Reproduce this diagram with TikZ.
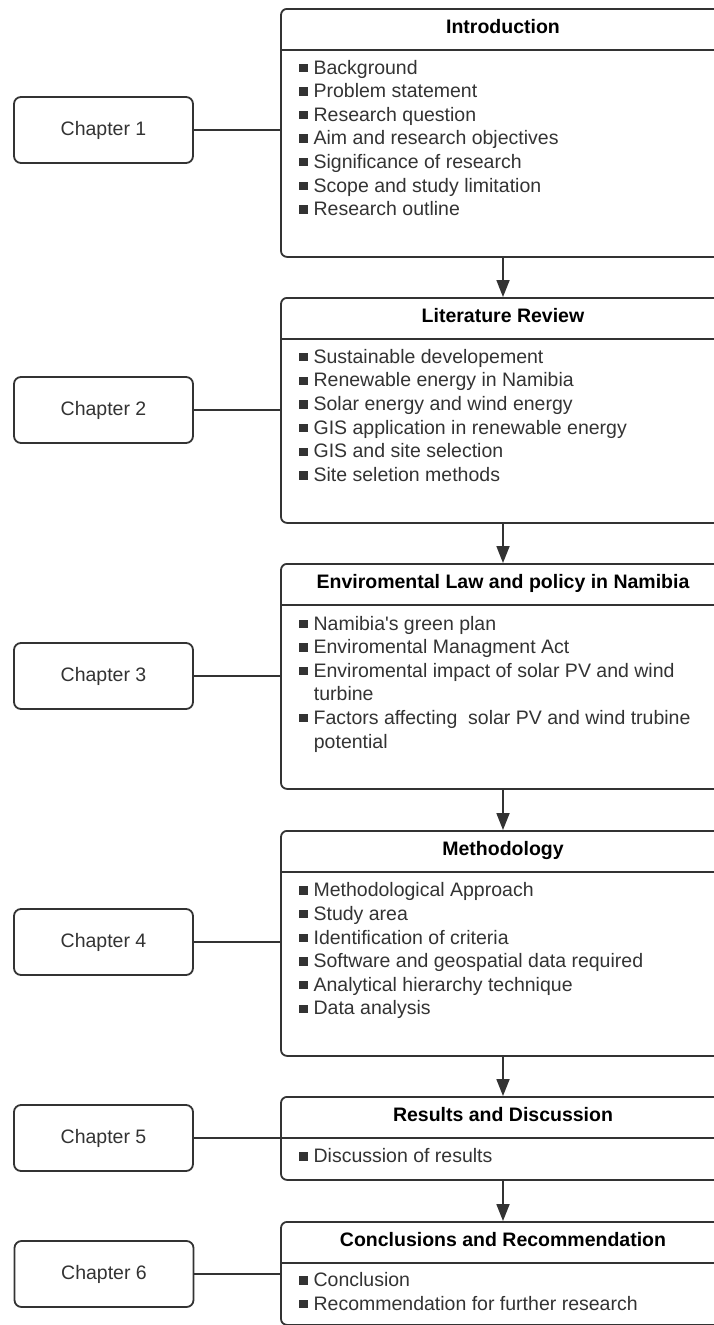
\documentclass[tikz,border=0pt]{standalone}
\usepackage{fontspec}
\setmainfont{Liberation Sans}
\usetikzlibrary{arrows.meta}
\definecolor{ln}{HTML}{333333}
\definecolor{tx}{HTML}{333333}
\newcommand{\bul}{\textcolor{tx}{\rule[2pt]{8.4pt}{8.4pt}}\hspace{6pt}}
\begin{document}
\begin{tikzpicture}[x=1pt,y=-1pt,
  every node/.style={font=\fontsize{19.5}{23.5}\selectfont, inner sep=0pt},
  chap/.style={draw=ln, line width=1.8pt, rounded corners=7pt, minimum width=179pt, minimum height=66pt, text=tx},
  sect/.style={draw=ln, line width=1.8pt, rounded corners=6pt, minimum width=444pt, anchor=north},
  ttl/.style={anchor=base, font=\fontsize{19.5}{23.5}\selectfont\bfseries, text=black},
  itm/.style={anchor=base west, text=tx},
  link/.style={draw=ln, line width=1.8pt},
  arr/.style={draw=ln, line width=1.8pt, -{Triangle[length=17pt,width=13pt]}},
]
\fill[white] (0,0) rectangle (714,1325);
\useasboundingbox (0,0) rectangle (714,1325);
\clip (0,0) rectangle (714,1325);

% section boxes
\node[sect, minimum height=248pt] (b1) at (503,8) {};
\node[sect, minimum height=225pt] (b2) at (503,297) {};
\node[sect, minimum height=225pt] (b3) at (503,563) {};
\node[sect, minimum height=225pt] (b4) at (503,830) {};
\node[sect, minimum height=83pt] (b5) at (503,1096) {};
\node[sect, minimum height=103pt] (b6) at (503,1221) {};

% dividers
\foreach \b/\d in {b1/50, b2/339, b3/605, b4/872, b5/1138, b6/1263}
  \draw[link] (\b.west |- 0,\d) -- (\b.east |- 0,\d);

% titles
\node[ttl] (t1) at (503,33.2) {Introduction};
\node[ttl] (t2) at (503,322.3) {Literature Review};
\node[ttl] (t3) at (503,588.3) {Enviromental Law and policy in Namibia};
\node[ttl] (t4) at (503,855.2) {Methodology};
\node[ttl] (t5) at (503,1121.5) {Results and Discussion};
\node[ttl] (t6) at (503,1246) {Conclusions and Recommendation};

% items box 1
\foreach \t [count=\i] in {Background, Problem statement, Research question,
  Aim and research objectives, Significance of research,
  Scope and study limitation, Research outline}
  \node[itm] (b1i\i) at (299,{74+(\i-1)*23.6}) {\bul \t};

% items box 2
\foreach \t [count=\i] in {Sustainable developement, Renewable energy in Namibia,
  Solar energy and wind energy, GIS application in renewable energy,
  GIS and site selection, Site seletion methods}
  \node[itm] (b2i\i) at (299,{363.3+(\i-1)*23.65}) {\bul \t};

% items box 3
\node[itm] (b3i1) at (299,630) {\bul Namibia\textquotesingle s green plan};
\node[itm] (b3i2) at (299,653.6) {\bul Enviromental Managment Act};
\node[itm] (b3i3) at (299,677.2) {\bul Enviromental impact of solar PV and wind};
\node[itm] (b3i3b) at (313.7,700.8) {turbine};
\node[itm] (b3i4) at (299,724.4) {\bul Factors affecting\ \ solar PV and wind trubine};
\node[itm] (b3i4b) at (313.7,748) {potential};

% items box 4
\foreach \t [count=\i] in {Methodological Approach, Study area,
  Identification of criteria, Software and geospatial data required,
  Analytical hierarchy technique, Data analysis}
  \node[itm] (b4i\i) at (299,{896.7+(\i-1)*23.65}) {\bul \t};

% items box 5
\node[itm] (b5i1) at (299,1162.7) {\bul Discussion of results};

% items box 6
\node[itm] (b6i1) at (299,1286.7) {\bul Conclusion};
\node[itm] (b6i2) at (299,1310.3) {\bul Recommendation for further research};

% chapter boxes
\node[chap] (c1) at (103.5,130) {Chapter 1};
\node[chap] (c2) at (103.5,410) {Chapter 2};
\node[chap] (c3) at (103.5,676) {Chapter 3};
\node[chap] (c4) at (103.5,942) {Chapter 4};
\node[chap] (c5) at (103.5,1138) {Chapter 5};
\node[chap] (c6) at (104,1274) {Chapter 6};

% links
\foreach \c/\b in {c1/b1, c2/b2, c3/b3, c4/b4, c5/b5, c6/b6}
  \draw[link] (\c.east) -- (\c.east -| \b.west);

% arrows
\draw[arr] (b1.south) -- (b2.north);
\draw[arr] (b2.south) -- (b3.north);
\draw[arr] (b3.south) -- (b4.north);
\draw[arr] (b4.south) -- (b5.north);
\draw[arr] (b5.south) -- (b6.north);
\end{tikzpicture}
\end{document}
